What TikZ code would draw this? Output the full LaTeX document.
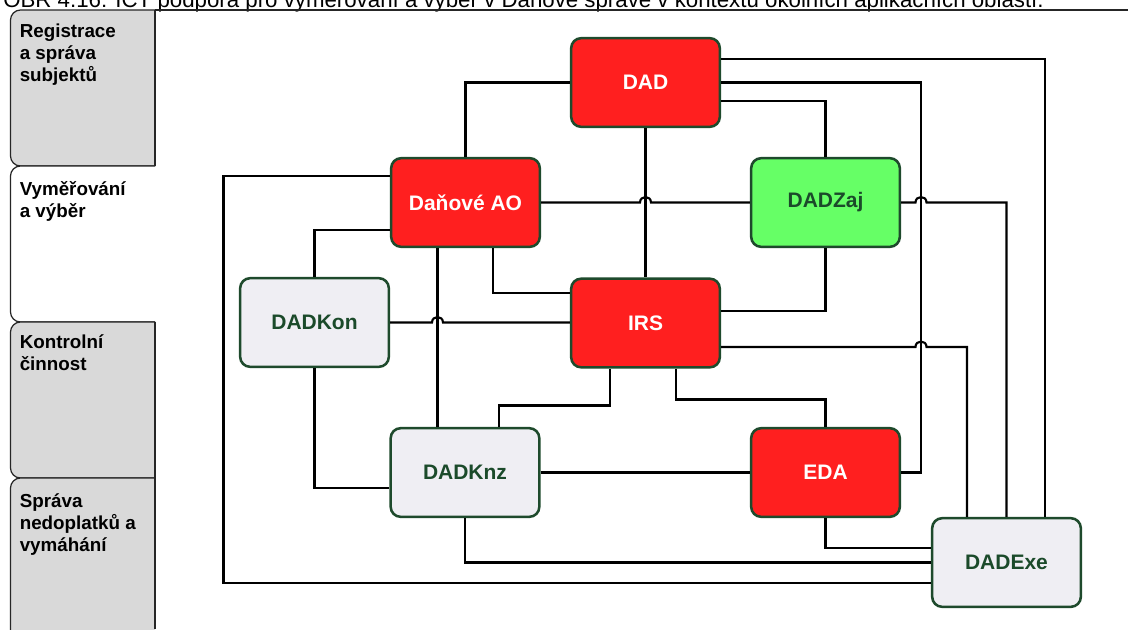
\documentclass[tikz,border=0pt]{standalone}
\usepackage{fontspec}
\setmainfont{Liberation Sans}
\definecolor{appred}{HTML}{FF1F1F}
\definecolor{appgreen}{HTML}{66FF66}
\definecolor{applight}{HTML}{EFEEF3}
\definecolor{appedge}{HTML}{1E4A2C}
\definecolor{apptext}{HTML}{1B4A2A}
\definecolor{lanegray}{HTML}{D9D9D9}
\definecolor{laneedge}{HTML}{262626}
\begin{document}
\begin{tikzpicture}[x=0.75pt, y=-0.75pt,
  app/.style={draw=appedge, line width=1.9pt, rounded corners=7.5pt,
    minimum width=111.5pt, minimum height=66.5pt, inner sep=0pt,
    font=\fontsize{15.75}{18}\selectfont\bfseries},
  core/.style={app, fill=appred, text=white},
  ext/.style={app, fill=applight, text=apptext},
  task/.style={app, fill=appgreen, text=apptext},
  wire/.style={line width=1.6pt, black},
  lane/.style={draw=laneedge, line width=0.9pt, rounded corners=7.5pt},
  lanetext/.style={anchor=north west, inner sep=0pt, align=left,
    font=\fontsize{14.1}{16.5}\selectfont\bfseries}
]
\useasboundingbox (0,0) rectangle (1128,629);
\fill[white] (0,0) rectangle (1128,629);
\clip (0,0) rectangle (1128,629);

% caption line (its upper part runs off the page)
\node[anchor=base west, inner sep=0pt, font=\fontsize{16.7}{18}\selectfont] (caption) at (3,7)
  {OBR 4.16: ICT podpora pro vyměřování a výběr v Daňové správě v kontextu okolních aplikačních oblastí.};

% swimlane headers
\begin{scope}
  \clip (0,0) rectangle (155,629);
  \draw[lane, fill=lanegray] (10.5,10) rectangle (190,166);
  \draw[lane, fill=white] (10.5,166) rectangle (190,322);
  \draw[lane, fill=lanegray] (10.5,322) rectangle (190,478);
  \draw[lane, fill=lanegray] (10.5,478) rectangle (190,680);
\end{scope}
\draw[laneedge, line width=0.9pt] (155,10) -- (155,166) (155,322) -- (155,629);
\draw[laneedge, line width=1.3pt] (155,10) -- (1128,10);

\node[lanetext] (lane1) at (19.5,19.5) {\rule{0pt}{13.5pt}Registrace\\a správa\\subjektů};
\node[lanetext] (lane2) at (19.5,177.5) {\rule{0pt}{13.5pt}Vyměřování\\a výběr};
\node[lanetext] (lane3) at (19.5,330.5) {\rule{0pt}{13.5pt}Kontrolní\\činnost};
\node[lanetext] (lane4) at (19.5,489) {\rule{0pt}{13.5pt}Správa\\nedoplatků a\\vymáhání};

% applications
\node[core] (dad)  at (645.5,82.5)  {DAD};
\node[core] (dao)  at (465.5,202.5) {Daňové AO};
\node[task] (dzaj) at (825.5,202.5) {DADZaj};
\node[ext]  (dkon) at (314.5,322.5) {DADKon};
\node[core] (irs)  at (645.5,323)   {IRS};
\node[ext]  (dknz) at (465,472.5)   {DADKnz};
\node[core] (eda)  at (825.5,472.5) {EDA};
\node[ext]  (dexe) at (1006.5,562.5){DADExe};

% links
\draw[wire] (dad.west) -| (dao.north);
\draw[wire] (dad.south) -- (irs.north);
\draw[wire] (dad.east |- 0,59) -| (dexe.north -| 1045,0);
\draw[wire] (dad.east) -| (eda.east -| 921,0) -- (eda.east);
\draw[wire] (dad.east |- 0,101) -| (dzaj.north);

\draw[wire] (dao.east) -- (640,202.5) .. controls (640,195.2) and (651,195.2) .. (651,202.5) -- (dzaj.west);
\draw[wire] (dzaj.east) -- (915.5,202.5) .. controls (915.5,195.2) and (926.5,195.2) .. (926.5,202.5) -| (dexe.north);
\draw[wire] (dzaj.south) |- (irs.east |- 0,311);
\draw[wire] (irs.east |- 0,347) -- (915.5,347) .. controls (915.5,339.7) and (926.5,339.7) .. (926.5,347) -| (dexe.north -| 967,0);

\draw[wire] (dao.south -| 493,0) |- (irs.west |- 0,293);
\draw[wire] (dao.south -| 437.5,0) -- (dknz.north -| 437.5,0);
\draw[wire] (dao.west |- 0,176) -| (223.5,583) -- (dexe.west |- 0,583);
\draw[wire] (dao.west |- 0,230) -| (dkon.north);

\draw[wire] (dkon.east) -- (432,322.5) .. controls (432,315.2) and (443,315.2) .. (443,322.5) -- (irs.west |- 0,322.5);
\draw[wire] (dkon.south) |- (dknz.west |- 0,488);

\draw[wire] (dknz.north -| 499,0) -- (499,405.5) -| (irs.south -| 610,0);
\draw[wire] (irs.south -| 676,0) -- (676,399.5) -| (eda.north);
\draw[wire] (dknz.east) -- (eda.west);
\draw[wire] (dknz.south) |- (dexe.west);
\draw[wire] (eda.south) |- (dexe.west |- 0,548);
\end{tikzpicture}
\end{document}
